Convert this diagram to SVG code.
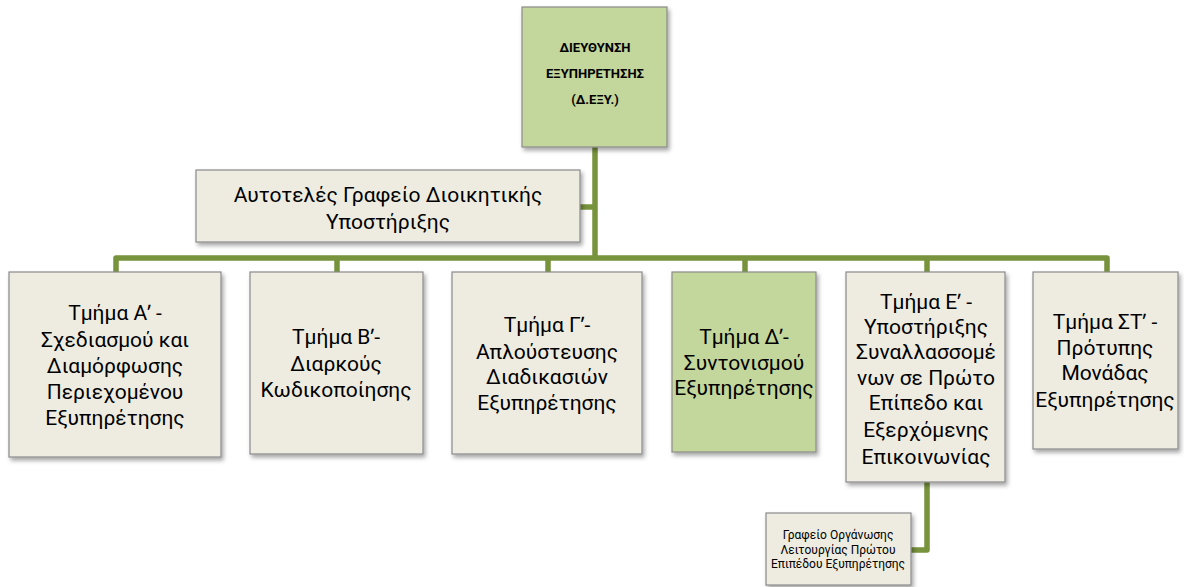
<svg xmlns="http://www.w3.org/2000/svg" width="1184" height="587" viewBox="0 0 1184 587">
<defs>
<filter id="sh" x="-10%" y="-10%" width="125%" height="130%">
<feDropShadow dx="2" dy="3" stdDeviation="2" flood-color="#000" flood-opacity="0.35"/>
</filter>
<style>
.box{stroke:#8a8a8a;stroke-width:1.2;filter:url(#sh)}
.beige{fill:#eeece1}
.green{fill:#c3d69b}
.t{font-family:Roboto,"Noto Sans","DejaVu Sans",sans-serif;font-size:21px;fill:#000;text-anchor:middle;dominant-baseline:central}
.tb{font-family:Roboto,"Noto Sans","DejaVu Sans",sans-serif;font-size:13px;font-weight:bold;fill:#000;text-anchor:middle;dominant-baseline:central}
.ts{font-family:Roboto,"Noto Sans","DejaVu Sans",sans-serif;font-size:12px;fill:#000;text-anchor:middle;dominant-baseline:central}
.c{fill:none;stroke:#77933c;stroke-width:5.5;stroke-linejoin:round}
</style>
</defs>
<rect width="1184" height="587" fill="#fff"/>
<g id="connectors">
<path class="c" d="M595 147 V258"/>
<path class="c" d="M580 207 H595"/>
<path class="c" d="M116 272 V258 H1107 V272"/>
<path class="c" d="M337 258 V272"/>
<path class="c" d="M548 258 V272"/>
<path class="c" d="M745 258 V272"/>
<path class="c" d="M927 258 V272"/>
<path class="c" d="M927 482 V550 H911"/>
</g>
<g id="node-top">
<rect class="box green" x="522" y="7" width="145" height="140"/>
<text class="tb" x="595" y="47">ΔΙΕΥΘΥΝΣΗ</text>
<text class="tb" x="595" y="73">ΕΞΥΠΗΡΕΤΗΣΗΣ</text>
<text class="tb" x="595" y="99">(Δ.ΕΞΥ.)</text>
</g>
<g id="node-admin">
<rect class="box beige" x="196" y="170" width="384" height="72"/>
<text class="t" x="388" y="195">Αυτοτελές Γραφείο Διοικητικής</text>
<text class="t" x="388" y="222">Υποστήριξης</text>
</g>
<g id="node-a">
<rect class="box beige" x="9" y="272" width="212" height="185"/>
<text class="t" x="115" y="313">Τμήμα Αʹ -</text>
<text class="t" x="115" y="340">Σχεδιασμού και</text>
<text class="t" x="115" y="366">Διαμόρφωσης</text>
<text class="t" x="115" y="392">Περιεχομένου</text>
<text class="t" x="115" y="418">Εξυπηρέτησης</text>
</g>
<g id="node-b">
<rect class="box beige" x="250" y="272" width="173" height="182"/>
<text class="t" x="336" y="337">Τμήμα Βʹ-</text>
<text class="t" x="336" y="364">Διαρκούς</text>
<text class="t" x="336" y="390">Κωδικοποίησης</text>
</g>
<g id="node-c">
<rect class="box beige" x="452" y="272" width="190" height="182"/>
<text class="t" x="547" y="325">Τμήμα Γʹ-</text>
<text class="t" x="547" y="352">Απλούστευσης</text>
<text class="t" x="547" y="377">Διαδικασιών</text>
<text class="t" x="547" y="403">Εξυπηρέτησης</text>
</g>
<g id="node-d">
<rect class="box green" x="672" y="272" width="144" height="180"/>
<text class="t" x="744" y="337">Τμήμα Δʹ-</text>
<text class="t" x="744" y="363">Συντονισμού</text>
<text class="t" x="744" y="388">Εξυπηρέτησης</text>
</g>
<g id="node-e">
<rect class="box beige" x="846" y="272" width="159" height="210"/>
<text class="t" x="926" y="302">Τμήμα Εʹ -</text>
<text class="t" x="926" y="327">Υποστήριξης</text>
<text class="t" x="926" y="352">Συναλλασσομέ</text>
<text class="t" x="926" y="378">νων σε Πρώτο</text>
<text class="t" x="926" y="403">Επίπεδο και</text>
<text class="t" x="926" y="430">Εξερχόμενης</text>
<text class="t" x="926" y="457">Επικοινωνίας</text>
</g>
<g id="node-f">
<rect class="box beige" x="1033" y="272" width="145" height="177"/>
<text class="t" x="1105" y="322">Τμήμα ΣΤʹ -</text>
<text class="t" x="1105" y="348">Πρότυπης</text>
<text class="t" x="1105" y="373">Μονάδας</text>
<text class="t" x="1105" y="400">Εξυπηρέτησης</text>
</g>
<g id="node-office">
<rect class="box beige" x="766" y="513" width="145" height="72"/>
<text class="ts" x="838" y="535">Γραφείο Οργάνωσης</text>
<text class="ts" x="838" y="549.5">Λειτουργίας Πρώτου</text>
<text class="ts" x="838" y="564">Επιπέδου Εξυπηρέτησης</text>
</g>
</svg>
